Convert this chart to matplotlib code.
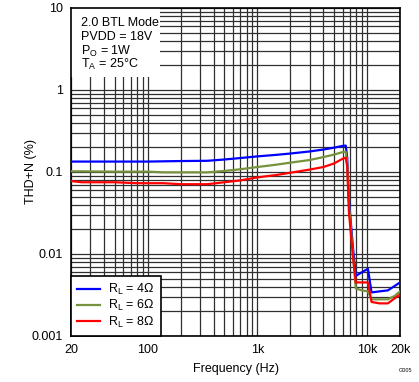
import matplotlib
matplotlib.use("Agg")
import matplotlib.pyplot as plt
from matplotlib.patches import Rectangle
from matplotlib.ticker import FixedLocator, FixedFormatter, LogLocator, NullFormatter

plt.rcParams['font.family'] = ['Liberation Sans', 'DejaVu Sans']
plt.rcParams['mathtext.fontset'] = 'custom'
plt.rcParams['mathtext.rm'] = 'Liberation Sans'
plt.rcParams['mathtext.it'] = 'Liberation Sans'

freq = [20, 25, 50, 80, 100, 140, 200, 350, 500, 700, 1000, 1500, 2000, 3000,
        4000, 5000, 6000, 6400, 6600, 6850, 7450, 7900, 9000, 10200, 11000,
        13000, 15500, 18000, 20000]

thd_4 = [0.134, 0.134, 0.134, 0.134, 0.134, 0.135, 0.136, 0.137, 0.142, 0.148,
         0.155, 0.162, 0.168, 0.178, 0.188, 0.198, 0.208, 0.21, 0.15, 0.045,
         0.012, 0.0054, 0.006, 0.0066, 0.0034, 0.0035, 0.0036, 0.0041, 0.0045]
thd_6 = [0.102, 0.102, 0.101, 0.101, 0.101, 0.099, 0.099, 0.099, 0.103, 0.108,
         0.115, 0.123, 0.13, 0.14, 0.152, 0.163, 0.175, 0.177, 0.13, 0.04,
         0.01, 0.0038, 0.0036, 0.0035, 0.0028, 0.0028, 0.0028, 0.0031, 0.0035]
thd_8 = [0.0775, 0.075, 0.075, 0.073, 0.073, 0.073, 0.071, 0.071, 0.075, 0.079,
         0.086, 0.092, 0.098, 0.107, 0.115, 0.127, 0.145, 0.15, 0.117, 0.032,
         0.0093, 0.0045, 0.0045, 0.0045, 0.0026, 0.0025, 0.0025, 0.0029, 0.0032]

labels = [r'R$_\mathregular{L}$ = 4Ω', r'R$_\mathregular{L}$ = 6Ω', r'R$_\mathregular{L}$ = 8Ω']
colors = ['#0000ff', '#76923c', '#ff0000']

xticks = [20, 100, 1000, 10000, 20000]
xticklabels = ['20', '100', '1k', '10k', '20k']
yticks = [0.001, 0.01, 0.1, 1, 10]
yticklabels = ['0.001', '0.01', '0.1', '1', '10']

fig = plt.figure(figsize=(4.19, 3.82), dpi=100)
ax = fig.add_axes([71 / 419, 46 / 382, 329 / 419, 328 / 382])

for y, lab, c in zip([thd_4, thd_6, thd_8], labels, colors):
    ax.plot(freq, y, color=c, lw=1.6, label=lab, zorder=3)

ax.set_xscale('log')
ax.set_yscale('log')
ax.set_xlim(20, 20000)
ax.set_ylim(0.001, 10)

ax.xaxis.set_major_locator(FixedLocator(xticks))
ax.xaxis.set_major_formatter(FixedFormatter(xticklabels))
ax.xaxis.set_minor_locator(LogLocator(base=10, subs=range(2, 10), numticks=20))
ax.xaxis.set_minor_formatter(NullFormatter())
ax.yaxis.set_major_locator(FixedLocator(yticks))
ax.yaxis.set_major_formatter(FixedFormatter(yticklabels))
ax.yaxis.set_minor_locator(LogLocator(base=10, subs=range(2, 10), numticks=20))
ax.yaxis.set_minor_formatter(NullFormatter())

ax.grid(True, which='both', color='#303030', lw=0.9)
ax.tick_params(which='both', length=0, labelsize=9, pad=6)
for s in ax.spines.values():
    s.set_linewidth(1.2)
    s.set_color('black')

ax.set_xlabel('Frequency (Hz)', fontsize=9, labelpad=5)
ax.set_ylabel('THD+N (%)', fontsize=9)
ax.yaxis.set_label_coords(-34 / 329, 0.5)

# white panel behind the conditions text
ax.add_patch(Rectangle((0, 0.79), 0.27, 0.21, transform=ax.transAxes,
                       facecolor='white', edgecolor='none', zorder=2))
cond = ['2.0 BTL Mode', 'PVDD = 18V', r'P$_\mathregular{O}$ = 1W', r'T$_\mathregular{A}$ = 25°C']
for i, t in enumerate(cond):
    ax.text(0.03, 0.953 - i * 0.042, t, transform=ax.transAxes, fontsize=9,
            va='center', ha='left', zorder=4)

leg = ax.legend(loc='lower left', fontsize=9, frameon=True, fancybox=False,
                borderaxespad=0, handlelength=1.8, handletextpad=0.7,
                labelspacing=0.1, borderpad=0.5)
leg.get_frame().set_edgecolor('black')
leg.get_frame().set_linewidth(1.2)
leg.get_frame().set_alpha(1)

fig.text(405 / 419, 1 - 370 / 382, 'G005', fontsize=4, ha='center', va='center')

fig.savefig('out.png', dpi=100)
